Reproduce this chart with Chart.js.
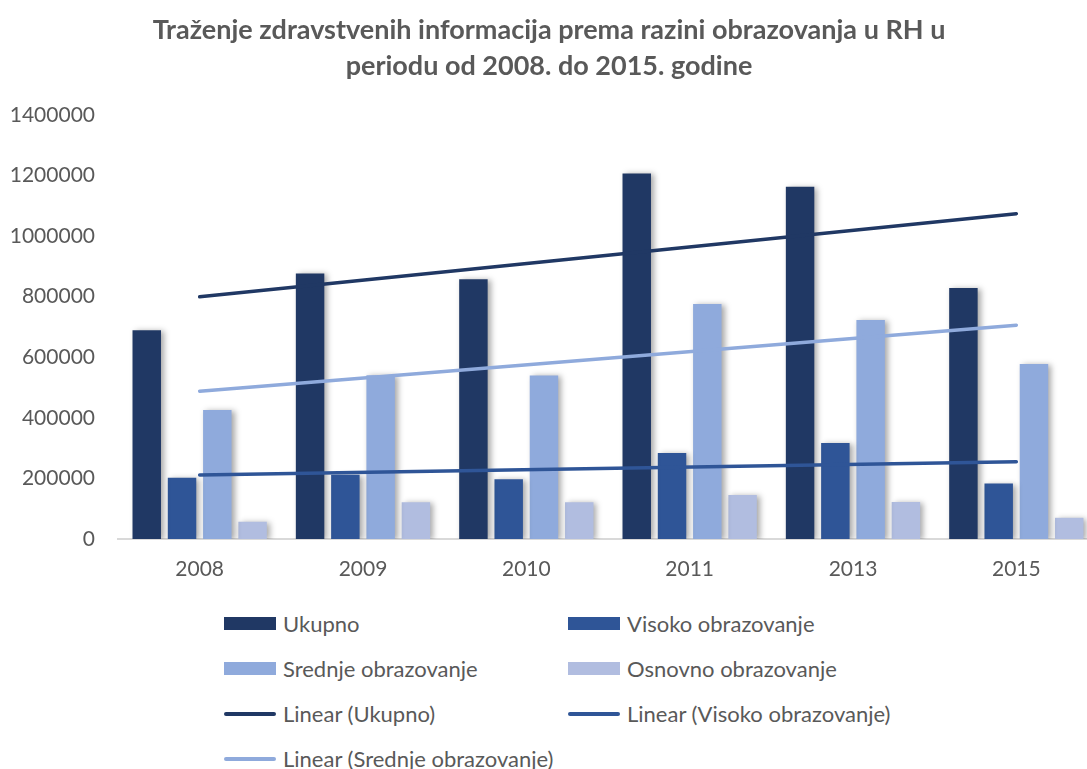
<!DOCTYPE html>
<html>
<head>
<meta charset="utf-8">
<script src="https://cdn.jsdelivr.net/npm/chart.js@4.4.1/dist/chart.umd.min.js"></script>
<style>
  html, body { margin: 0; padding: 0; background: #ffffff; overflow: hidden; }
  #wrap { position: relative; width: 1118px; height: 769px; }
  #chartBox { position: absolute; left: 0; top: 0; width: 1118px; height: 600px; }
  #legend { position: absolute; left: 224px; top: 601px; display: grid;
            grid-template-columns: 344px 344px; grid-auto-rows: 45px;
            font-family: Lato, "Open Sans", sans-serif; font-size: 22px; color: #595959; }
  .item { display: flex; align-items: center; white-space: nowrap; height: 45px; }
  .sw { width: 52px; margin-right: 7px; flex: none; }
  .sw.bar { height: 13px; }
  .sw.line { height: 4px; border-radius: 2px; }
</style>
</head>
<body>
<div id="wrap">
  <div id="chartBox"><canvas id="c"></canvas></div>
  <div id="legend"></div>
</div>
<script>
const titleLines = ["Traženje zdravstvenih informacija prema razini obrazovanja u RH u", "periodu od 2008. do 2015. godine"];
const categories = ["2008", "2009", "2010", "2011", "2013", "2015"];
const ukupno  = [689000, 877000, 858000, 1207000, 1163000, 829000];
const visoko  = [202000, 212000, 197000, 284000, 317000, 183000];
const srednje = [426000, 541000, 540000, 776000, 723000, 578000];
const osnovno = [57000, 121000, 121000, 145000, 122000, 70000];
// Trend lines (start at 2008, end at 2015)
const trendUkupno  = [800000, null, null, null, null, 1074000];
const trendVisoko  = [211000, null, null, null, null, 255000];
const trendSrednje = [488000, null, null, null, null, 706000];
const yTicks = [0, 200000, 400000, 600000, 800000, 1000000, 1200000, 1400000];

const barNames = ["Ukupno", "Visoko obrazovanje", "Srednje obrazovanje", "Osnovno obrazovanje"];
const barColors = ["#203864", "#2F5597", "#8FAADC", "#B1BDE0"];
const lineNames = ["Linear (Ukupno)", "Linear (Visoko obrazovanje)", "Linear (Srednje obrazovanje)"];
const lineColors = ["#203864", "#2F5597", "#8FAADC"];

const barData = [ukupno, visoko, srednje, osnovno];
const lineData = [trendUkupno, trendVisoko, trendSrednje];

const datasets = [];
lineData.forEach((d, i) => datasets.push({
  type: 'line', label: lineNames[i], data: d, borderColor: lineColors[i],
  backgroundColor: lineColors[i], borderWidth: 3.5, pointRadius: 0, spanGaps: true,
  borderCapStyle: 'round', order: 0, fill: false
}));
barData.forEach((d, i) => datasets.push({
  type: 'bar', label: barNames[i], data: d, backgroundColor: barColors[i],
  borderWidth: 0, categoryPercentage: 0.864, barPercentage: 0.807, order: 1
}));

const shadowPlugin = {
  id: 'barShadow',
  beforeDatasetDraw(chart, args) {
    if (chart.data.datasets[args.index].type === 'bar') {
      const ctx = chart.ctx;
      ctx.save();
      ctx.shadowColor = 'rgba(0,0,0,0.35)';
      ctx.shadowBlur = 6;
      ctx.shadowOffsetX = 3;
      ctx.shadowOffsetY = 1;
    }
  },
  afterDatasetDraw(chart, args) {
    if (chart.data.datasets[args.index].type === 'bar') chart.ctx.restore();
  }
};

const FONT = 'Lato, "Open Sans", sans-serif';
new Chart(document.getElementById('c'), {
  data: { labels: categories, datasets },
  plugins: [shadowPlugin],
  options: {
    responsive: true, maintainAspectRatio: false, animation: false,
    layout: { padding: { left: 0, right: 20, top: 0, bottom: 0 } },
    plugins: {
      legend: { display: false },
      tooltip: { enabled: false },
      title: {
        display: true, text: titleLines, color: '#595959',
        font: { family: FONT, size: 27, weight: 'bold', lineHeight: 1.333 },
        padding: { top: 12, bottom: 31 }
      }
    },
    scales: {
      x: {
        grid: { display: false, drawTicks: false },
        border: { display: true, color: '#d9d9d9', width: 2 },
        ticks: { color: '#595959', font: { family: FONT, size: 21 }, padding: 18 },
        afterFit(s) { s.height = 61; }
      },
      y: {
        min: 0, max: 1400000,
        afterBuildTicks(s) { s.ticks = yTicks.map(v => ({ value: v })); },
        grid: { display: false, drawTicks: false },
        border: { display: false },
        ticks: { color: '#595959', font: { family: FONT, size: 21 }, padding: 23,
                 callback: v => String(v) },
        afterFit(s) { s.width = 118; }
      }
    }
  }
});

const legendItems = [
  { name: barNames[0], color: barColors[0], kind: 'bar' },
  { name: barNames[1], color: barColors[1], kind: 'bar' },
  { name: barNames[2], color: barColors[2], kind: 'bar' },
  { name: barNames[3], color: barColors[3], kind: 'bar' },
  { name: lineNames[0], color: lineColors[0], kind: 'line' },
  { name: lineNames[1], color: lineColors[1], kind: 'line' },
  { name: lineNames[2], color: lineColors[2], kind: 'line' }
];
const leg = document.getElementById('legend');
legendItems.forEach(it => {
  const d = document.createElement('div'); d.className = 'item';
  const s = document.createElement('span'); s.className = 'sw ' + it.kind; s.style.background = it.color;
  const t = document.createElement('span'); t.textContent = it.name;
  d.appendChild(s); d.appendChild(t); leg.appendChild(d);
});
</script>
</body>
</html>
